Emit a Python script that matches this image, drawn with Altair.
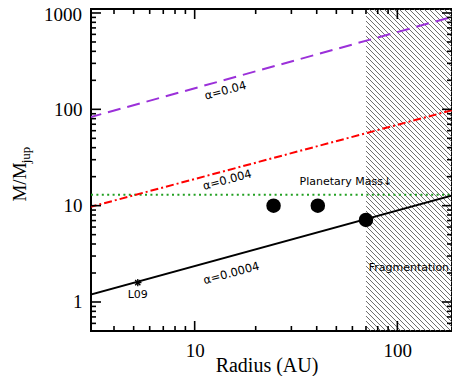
import altair as alt
import pandas as pd
import math

# ---------------- data ----------------
radius_ends = [3, 200]
alpha_labels = ["α=0.04", "α=0.004", "α=0.0004"]
mass_a04 = [82, 950]
mass_a004 = [9.6, 102]
mass_a0004 = [1.18, 13.3]
planet_mass_limit = 13
frag_radius = [70, 200]

obs_radius = [24.5, 40.5, 70]
obs_mass = [10, 10, 7.1]
l09_radius = [5.24]
l09_mass = [1.59]

label_x = [14.2, 14.5, 15.2]
label_y = [154, 18.2, 1.96]

y_major = [1, 10, 100, 1000]
y_minor = [0.5, 0.6, 0.7, 0.8, 0.9, 2, 3, 4, 5, 6, 7, 8, 9,
           20, 30, 40, 50, 60, 70, 80, 90, 200, 300, 400, 500, 600, 700, 800, 900]
x_major = [10, 100]
x_minor = [4, 5, 6, 7, 8, 9, 20, 30, 40, 50, 60, 70, 80, 90]

# ---------------- layout ----------------
W, H = 361, 322
XDOM = [3.08, 186]
YDOM = [0.5, 1100]
SERIF = "Liberation Serif"
SANS = "DejaVu Sans"

xs = alt.Scale(type="log", domain=XDOM, nice=False, zero=False)
ys = alt.Scale(type="log", domain=YDOM, nice=False, zero=False)

# ---- hatch pattern of the fragmentation region: 45-degree strokes, 5 px apart ----
lx0, lx1 = math.log10(XDOM[0]), math.log10(XDOM[1])
ly0, ly1 = math.log10(YDOM[0]), math.log10(YDOM[1])

def to_x(px):
    return 10 ** (lx0 + px / W * (lx1 - lx0))

def to_y(py):
    return 10 ** (ly1 - py / H * (ly1 - ly0))

p_frag = W * (math.log10(frag_radius[0]) - lx0) / (lx1 - lx0)
segs = []
c = p_frag - H
while c < W:
    xa = max(p_frag, c)
    xb = min(W, c + H)
    if xb > xa:
        segs.append((to_x(xa), to_y(xa - c), to_x(xb), to_y(xb - c)))
    c += 5
hatch_df = pd.DataFrame(segs, columns=["x", "y", "x2", "y2"])
hatch = alt.Chart(hatch_df).mark_rule(color="#5a5a5a", strokeWidth=0.9, clip=True).encode(
    x=alt.X("x:Q", scale=xs,
            axis=alt.Axis(values=x_major, format="d", ticks=False, domain=False, grid=False,
                          labelFont=SERIF, labelFontSize=19, labelColor="black",
                          labelPadding=10, title=None)),
    y=alt.Y("y:Q", scale=ys,
            axis=alt.Axis(values=y_major[:-1], format="d", ticks=False, domain=False, grid=False,
                          labelFont=SERIF, labelFontSize=19, labelColor="black",
                          labelPadding=9, title=None)),
    x2="x2:Q", y2="y2:Q",
)

# top y label kept inside the page
top_label = alt.Chart(pd.DataFrame({"m": [y_major[-1]], "t": [str(y_major[-1])]})).mark_text(
    font=SERIF, fontSize=19, align="right", baseline="middle", dy=2.5, color="black").encode(
    y=alt.Y("m:Q", scale=ys), x=alt.value(-9), text="t:N")

lines_df = pd.DataFrame({
    "r": radius_ends * 3,
    "m": mass_a04 + mass_a004 + mass_a0004,
    "s": ["a04"] * 2 + ["a004"] * 2 + ["a0004"] * 2,
})

def line_layer(key, color, dash):
    kw = dict(color=color, strokeWidth=2, clip=True)
    if dash:
        kw["strokeDash"] = dash
    return alt.Chart(lines_df).transform_filter(alt.datum.s == key).mark_line(**kw).encode(
        x=alt.X("r:Q", scale=xs), y=alt.Y("m:Q", scale=ys))

purple = line_layer("a04", "#9b30d9", [13, 7])
red = line_layer("a004", "#ff0000", [8, 3, 2, 3])
black = line_layer("a0004", "#000000", None)

green_df = pd.DataFrame({"m": [planet_mass_limit]})
green = alt.Chart(green_df).mark_rule(color="#22a022", strokeWidth=2, strokeDash=[2, 3.4]).encode(
    y=alt.Y("m:Q", scale=ys), x=alt.value(0), x2=alt.value(W))

dots_df = pd.DataFrame({"r": obs_radius, "m": obs_mass})
dots = alt.Chart(dots_df).mark_circle(size=210, color="black", opacity=1).encode(
    x=alt.X("r:Q", scale=xs), y=alt.Y("m:Q", scale=ys))

star_df = pd.DataFrame({"r": l09_radius, "m": l09_mass})
star = alt.Chart(star_df).mark_point(
    shape="M-1,0L1,0M-0.7,-0.7L0.7,0.7M-0.7,0.7L0.7,-0.7M0,-1L0,1",
    size=55, filled=False, color="black", strokeWidth=1.3, opacity=1).encode(
    x=alt.X("r:Q", scale=xs), y=alt.Y("m:Q", scale=ys))

lab_df = pd.DataFrame({"r": label_x, "m": label_y, "t": alpha_labels})
alpha_text = alt.Chart(lab_df).mark_text(font=SANS, fontSize=11.5, angle=345, color="black").encode(
    x=alt.X("r:Q", scale=xs), y=alt.Y("m:Q", scale=ys), text="t:N")

ann_df = pd.DataFrame({
    "r": [32.9, 114, 5.24],
    "m": [17.4, 2.24, 1.18],
    "t": ["Planetary Mass↓", "Fragmentation", "L09"],
    "a": ["left", "center", "center"],
})
ann_left = alt.Chart(ann_df).transform_filter(alt.datum.a == "left").mark_text(
    font=SANS, fontSize=11, align="left", color="black").encode(
    x=alt.X("r:Q", scale=xs), y=alt.Y("m:Q", scale=ys), text="t:N")
ann_center = alt.Chart(ann_df).transform_filter(alt.datum.a == "center").mark_text(
    font=SANS, fontSize=11, align="center", color="black").encode(
    x=alt.X("r:Q", scale=xs), y=alt.Y("m:Q", scale=ys), text="t:N")

# axis titles (y title with subscript)
xtitle = alt.Chart(pd.DataFrame({"t": ["Radius (AU)"]})).mark_text(
    font=SERIF, fontSize=20, align="center", baseline="alphabetic", color="black").encode(
    x=alt.value(176), y=alt.value(363), text="t:N")
ytitle = alt.Chart(pd.DataFrame({"t": ["M/M"]})).mark_text(
    font=SERIF, fontSize=19, angle=270, align="center", baseline="middle", color="black").encode(
    x=alt.value(-71), y=alt.value(173), text="t:N")
ysub = alt.Chart(pd.DataFrame({"t": ["jup"]})).mark_text(
    font=SERIF, fontSize=13, angle=270, align="center", baseline="middle", color="black").encode(
    x=alt.value(-65), y=alt.value(146), text="t:N")

# inward ticks on all four sides
def yticks(vals, L):
    d = pd.DataFrame({"m": vals})
    left = alt.Chart(d).mark_rule(color="black", strokeWidth=1.6).encode(
        y=alt.Y("m:Q", scale=ys), x=alt.value(0), x2=alt.value(L))
    right = alt.Chart(d).mark_rule(color="black", strokeWidth=1.6).encode(
        y=alt.Y("m:Q", scale=ys), x=alt.value(W), x2=alt.value(W - L))
    return [left, right]

def xticks(vals, L):
    d = pd.DataFrame({"r": vals})
    bottom = alt.Chart(d).mark_rule(color="black", strokeWidth=1.6).encode(
        x=alt.X("r:Q", scale=xs), y=alt.value(H), y2=alt.value(H - L))
    top = alt.Chart(d).mark_rule(color="black", strokeWidth=1.6).encode(
        x=alt.X("r:Q", scale=xs), y=alt.value(0), y2=alt.value(L))
    return [bottom, top]

tick_layers = yticks(y_major, 10) + yticks(y_minor, 5) + xticks(x_major, 10) + xticks(x_minor, 5)

chart = alt.layer(
    hatch, green, purple, red, black, dots, star, alpha_text, ann_left, ann_center,
    top_label, xtitle, ytitle, ysub, *tick_layers
).properties(
    width=W, height=H,
    padding={"left": 83, "top": 1, "right": 0, "bottom": 45},
    autosize="none",
    background="white",
).configure_view(stroke="black", strokeWidth=2)

chart.save("out.html", embed_options={"renderer": "svg", "actions": False})
